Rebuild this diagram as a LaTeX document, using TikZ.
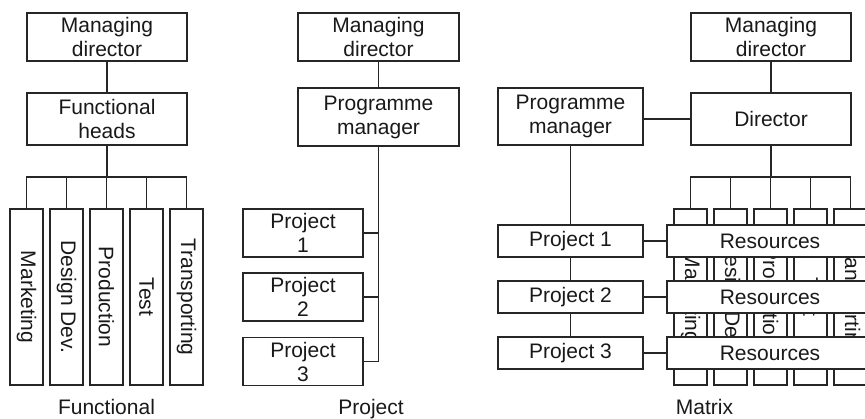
\documentclass[tikz,border=0pt]{standalone}
\usepackage{fontspec}
\setmainfont{Liberation Sans}
\usepackage{tikz}
\newcommand{\orgfont}{\fontsize{21}{24}\selectfont}
\tikzset{
  unit/.style    = {shape=rectangle, draw=black!85, fill=white,
                    text=black!90, font=\orgfont, align=center,
                    inner sep=0pt, line width=1.2pt},
  headbox/.style = {unit, minimum width=160pt, minimum height=48pt},
  deptbox/.style = {unit, rotate=-90, minimum width=176pt, minimum height=33pt},
  projbox/.style = {unit, minimum width=120pt, minimum height=48pt},
  rowbox/.style  = {unit, minimum height=32pt},
  caption/.style = {text=black!90, font=\orgfont, anchor=base},
  link/.style    = {draw=black!85, line width=1.2pt}
}

\begin{document}
\begin{tikzpicture}[x=1pt, y=-1pt]
  \useasboundingbox (0,0) rectangle (865,419);
  \clip (0,0) rectangle (865,419);

  % functional
  \node[headbox] (md1) at (107,37) {Managing\\director};
  \node[headbox, minimum height=52pt] (fh) at (107,119) {Functional\\heads};
  \foreach \name [count=\i] in {Marketing, Design Dev., Production, Test, Transporting}
    \node[deptbox] (f\i) at (-13.5+40*\i,297) {\name};
  \coordinate (fbar) at (107,177);
  \draw[link] (md1) -- (fh);
  \draw[link] (fh) -- (fbar);
  \draw[link] (f1.west) -- (f1.west |- fbar) -- (f5.west |- fbar) -- (f5.west);
  \foreach \i in {2,3,4}
    \draw[link] (f\i.west |- fbar) -- (f\i.west);
  \node[caption] (cap1) at (106.5,415) {Functional};

  % project
  \node[headbox, minimum width=161pt] (md2) at (378.5,37) {Managing\\director};
  \node[headbox, minimum width=161pt, minimum height=58pt] (pm1) at (378.5,117) {Programme\\manager};
  \node[projbox] (p1) at (303,233) {Project\\1};
  \node[projbox] (p2) at (303,297) {Project\\2};
  \node[projbox] (p3) at (303,361.5) {Project\\3};
  \draw[link] (md2) -- (pm1);
  \draw[link] (pm1.south) -- (pm1.south |- p3.east) -- (p3.east);
  \draw[link] (p1.east) -- (p1.east -| pm1.south);
  \draw[link] (p2.east) -- (p2.east -| pm1.south);
  \node[caption] (cap2) at (371,415) {Project};

  % matrix
  \node[headbox] (md3) at (771,37) {Managing\\director};
  \node[headbox, minimum height=52pt] (dir) at (771,119) {Director};
  \node[headbox, minimum width=145pt, minimum height=57pt] (pm2) at (570.5,116.5) {Programme\\manager};
  \foreach \name [count=\i] in {Marketing, Design Dev., Production, Test, Transporting}
    \node[deptbox] (m\i) at (650.5+40*\i,297) {\name};
  \foreach \y [count=\i] in {241,297,353} {
    \node[rowbox, minimum width=145pt] (q\i) at (570.5,\y) {Project \i};
    \node[rowbox, minimum width=206pt] (r\i) at (770,\y) {Resources};
    \draw[link] (q\i) -- (r\i);
  }
  \coordinate (mbar) at (771,177);
  \draw[link] (md3) -- (dir);
  \draw[link] (dir.west) -- (dir.west -| pm2.east);
  \draw[link] (pm2) -- (q1);
  \draw[link] (q1) -- (q2);
  \draw[link] (q2) -- (q3);
  \draw[link] (dir) -- (mbar);
  \draw[link] (m1.west) -- (m1.west |- mbar) -- (m5.west |- mbar) -- (m5.west);
  \foreach \i in {2,3,4}
    \draw[link] (m\i.west |- mbar) -- (m\i.west);
  \node[caption] (cap3) at (704.5,415) {Matrix};
\end{tikzpicture}
\end{document}
